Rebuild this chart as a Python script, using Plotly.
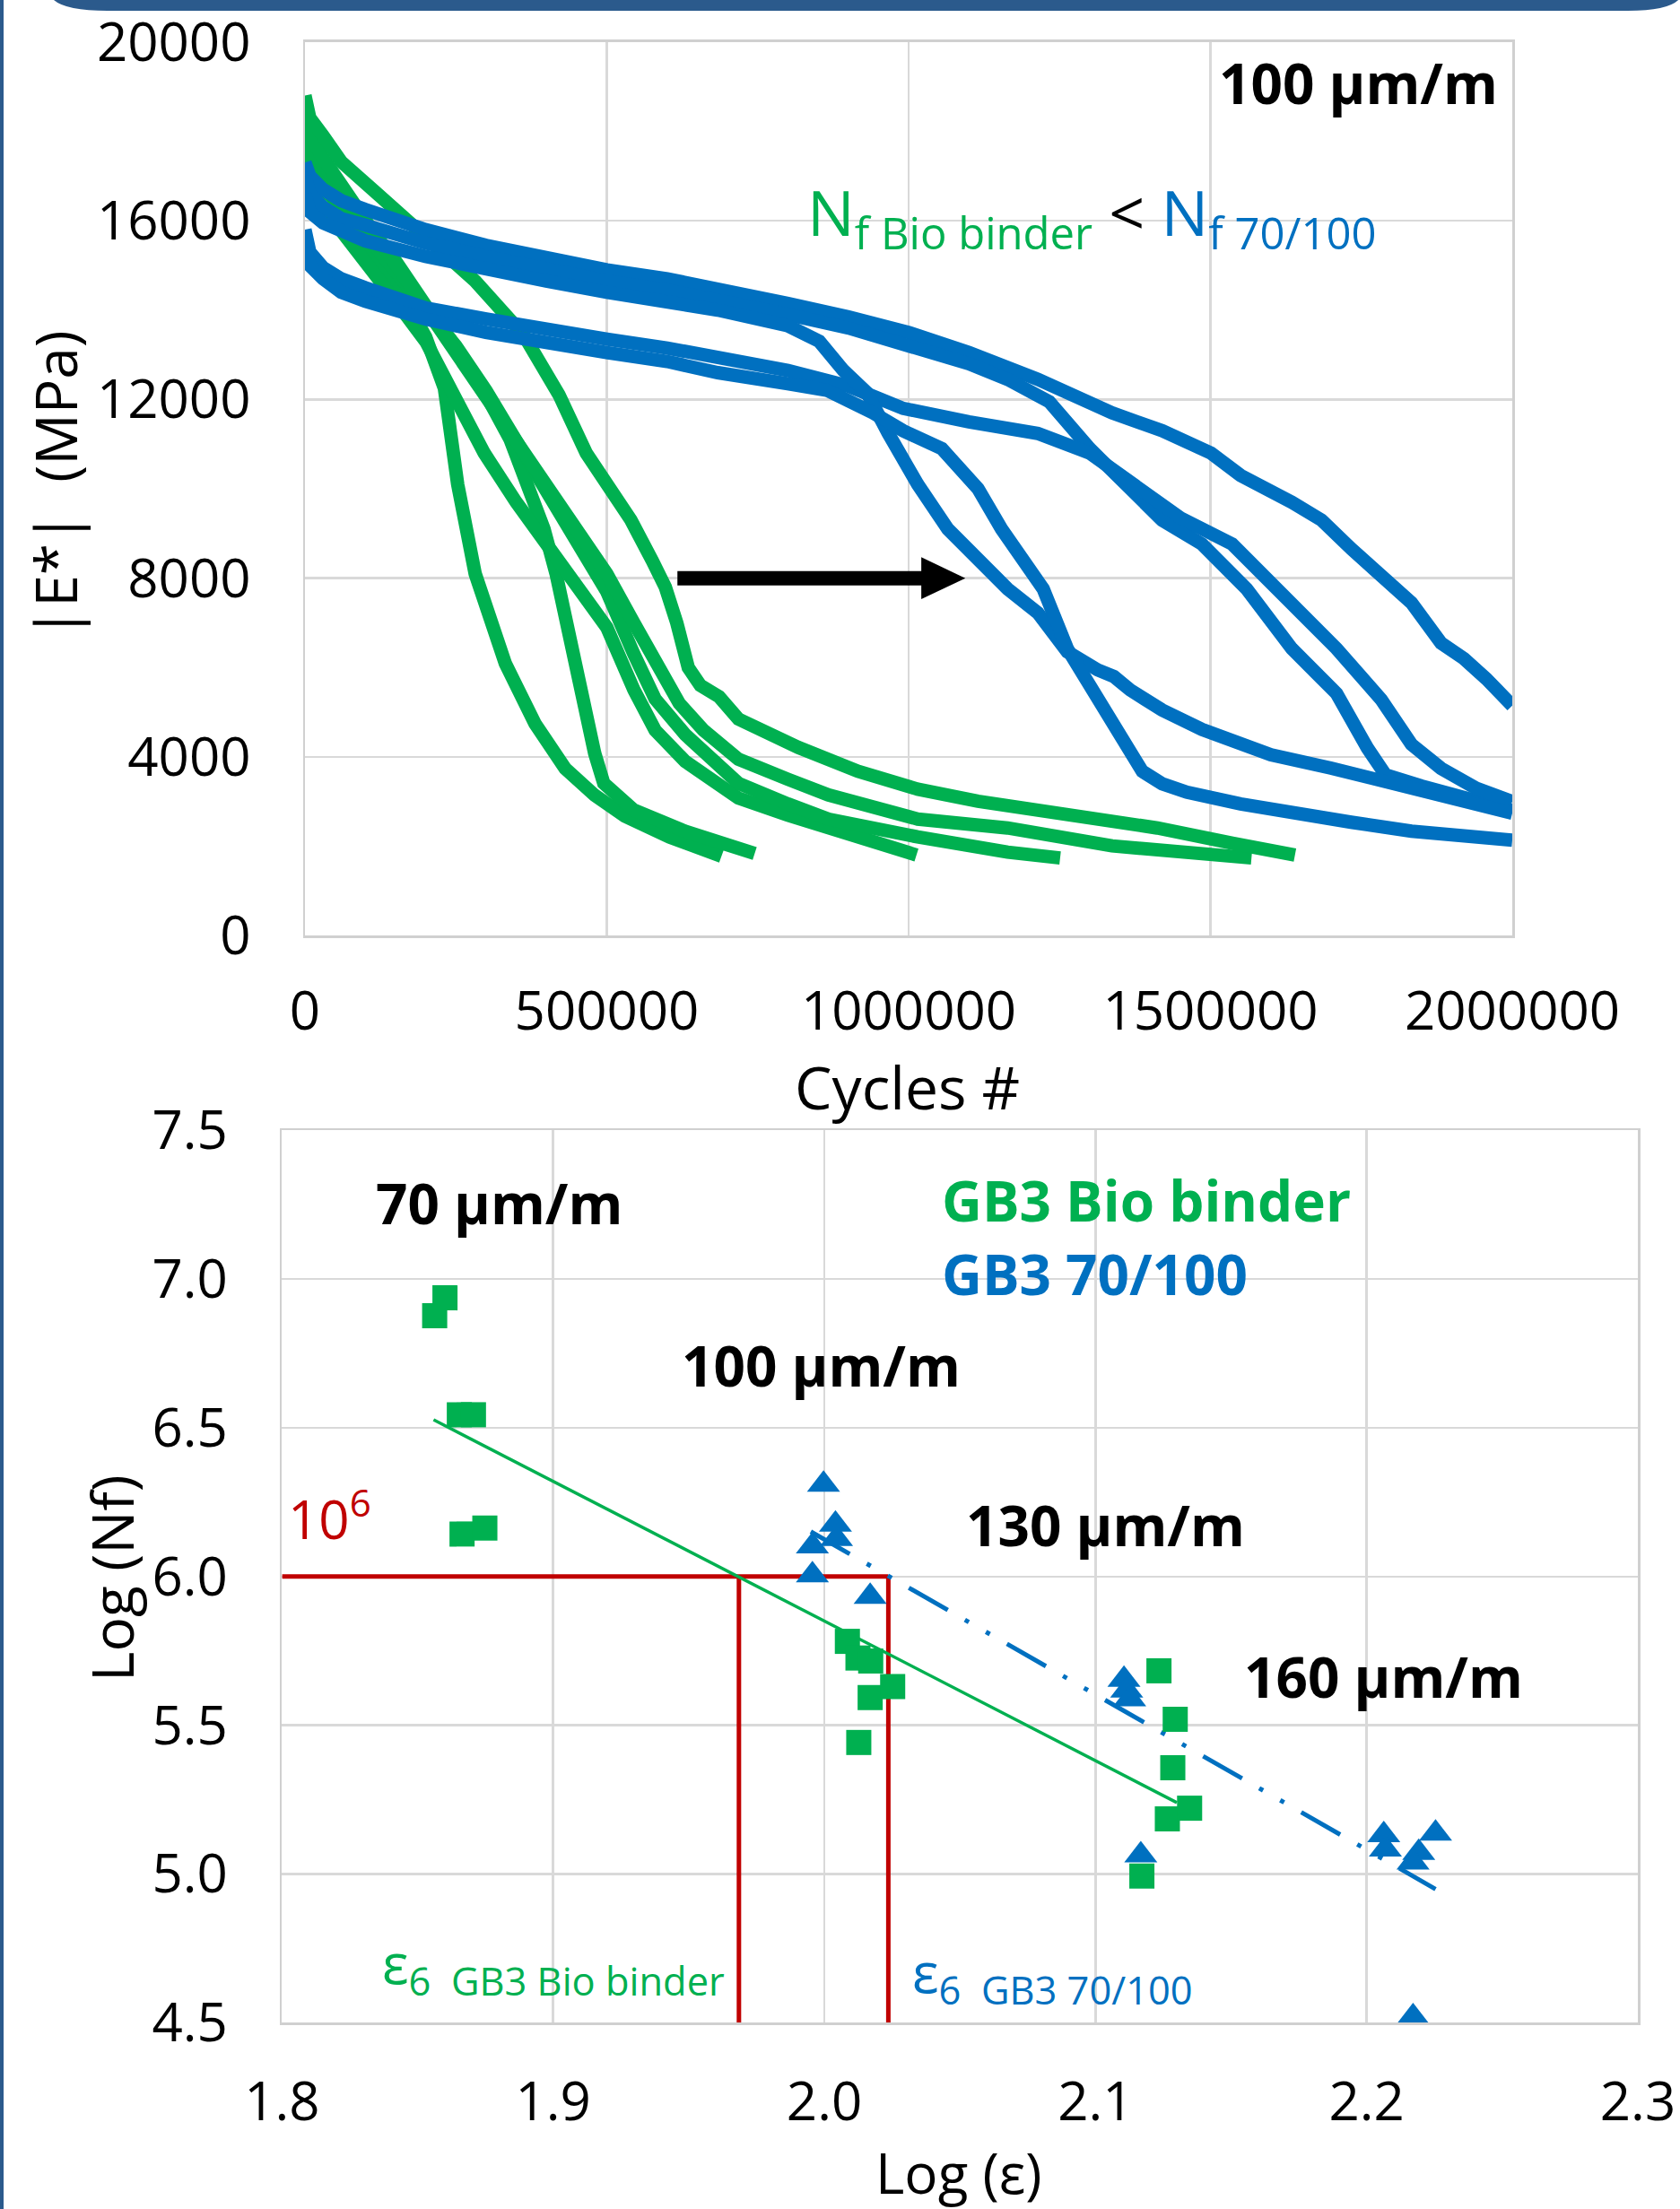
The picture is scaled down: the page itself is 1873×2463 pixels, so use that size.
import plotly.graph_objects as go

W, H = 1873, 2463
GREEN = "#00B050"
BLUE = "#0070C0"
RED = "#C00000"
BANNER = "#2B5A8C"
GRID = "#D9D9D9"
FONT = "Open Sans"

# ---------------- top chart: |E*| (MPa) vs cycles ----------------
bio_A_x = [0, 8000, 30000, 60000, 100000, 150000, 200000, 231000, 253000, 282000, 307000, 332000, 381000, 431000, 480000, 530000, 604000, 690000]
bio_A_y = [17800, 17300, 16800, 16200, 15500, 14600, 13400, 12250, 10100, 8100, 7090, 6090, 4750, 3745, 3143, 2675, 2207, 1780]

bio_B_x = [0, 8000, 30000, 60000, 100000, 150000, 200000, 250000, 300000, 340000, 367000, 396000, 416000, 431000, 446000, 461000, 480000, 495000, 545000, 629000, 684000, 745000]
bio_B_y = [18300, 17700, 17200, 16700, 16000, 15100, 14100, 13100, 12100, 11100, 10100, 9100, 8100, 7090, 6090, 5080, 4080, 3410, 2810, 2340, 2070, 1840]

bio_C_x = [0, 8000, 30000, 60000, 100000, 150000, 200000, 250000, 297000, 350000, 400000, 450000, 500000, 545000, 580000, 630000, 718000, 800000, 867000, 940000, 1013000]
bio_C_y = [17200, 16700, 16300, 15800, 15100, 14200, 13300, 12000, 10800, 9700, 8800, 7900, 6900, 5500, 4600, 3900, 3080, 2700, 2410, 2100, 1806]

bio_D_x = [0, 8000, 30000, 60000, 100000, 150000, 200000, 250000, 300000, 350000, 400000, 450000, 500000, 545000, 580000, 630000, 718000, 800000, 867000, 1015000, 1100000, 1164000, 1251000]
bio_D_y = [18000, 17400, 16900, 16300, 15700, 14900, 14100, 13200, 12200, 11100, 10000, 8900, 7700, 6300, 5300, 4500, 3410, 2950, 2610, 2210, 2000, 1870, 1740]

bio_E_x = [0, 8000, 30000, 60000, 100000, 150000, 200000, 250000, 300000, 350000, 400000, 450000, 500000, 545000, 590000, 620000, 660000, 718000, 800000, 867000, 1015000, 1164000, 1337000, 1450000, 1568000]
bio_E_y = [18500, 17900, 17400, 16800, 16000, 15100, 14100, 13100, 12100, 11000, 10100, 9100, 8100, 7000, 6000, 5200, 4600, 3950, 3500, 3150, 2610, 2410, 2010, 1850, 1740]

bio_F_x = [0, 8000, 30000, 60000, 120000, 178000, 230000, 282000, 362000, 421000, 466000, 500000, 540000, 575000, 597000, 616000, 635000, 655000, 686000, 718000, 817000, 916000, 1015000, 1115000, 1214000, 1313000, 1412000, 1536000, 1640000]
bio_F_y = [18800, 18300, 17900, 17320, 16600, 15900, 15250, 14650, 13450, 12100, 10800, 10100, 9300, 8400, 7800, 7000, 6000, 5600, 5350, 4850, 4215, 3680, 3280, 3010, 2810, 2610, 2410, 2070, 1806]

ref_1_x = [0, 8000, 30000, 60000, 100000, 200000, 300000, 400000, 500000, 600000, 684000, 800000, 900000, 1000000, 1100000, 1214000, 1337000, 1420000, 1501000, 1550000, 1635000, 1684000, 1734000, 1783000, 1833000, 1882000, 1920000, 1957000, 2000000]
ref_1_y = [17300, 17000, 16700, 16450, 16250, 15800, 15450, 15150, 14900, 14700, 14500, 14150, 13850, 13500, 13050, 12450, 11700, 11300, 10800, 10300, 9700, 9300, 8650, 8100, 7450, 6550, 6200, 5750, 5150]

ref_2_x = [0, 8000, 30000, 60000, 100000, 200000, 300000, 400000, 500000, 600000, 684000, 800000, 900000, 1000000, 1100000, 1164000, 1233000, 1300000, 1367000, 1420000, 1486000, 1560000, 1635000, 1709000, 1760000, 1790000, 1850000, 1932000, 2000000]
ref_2_y = [17000, 16600, 16300, 16050, 15900, 15500, 15200, 14900, 14650, 14450, 14250, 13900, 13600, 13200, 12800, 12450, 11950, 10900, 9950, 9300, 8763, 7760, 6420, 5420, 4200, 3600, 3350, 3077, 2800]

ref_3_x = [0, 8000, 30000, 60000, 100000, 200000, 300000, 400000, 500000, 600000, 684000, 800000, 900000, 991000, 1100000, 1214000, 1300000, 1367000, 1450000, 1536000, 1610000, 1709000, 1783000, 1833000, 1882000, 1940000, 2000000]
ref_3_y = [15800, 15300, 14950, 14700, 14500, 14050, 13800, 13550, 13350, 13150, 12950, 12650, 12300, 11800, 11500, 11240, 10800, 10150, 9350, 8763, 7760, 6422, 5284, 4281, 3746, 3300, 3000]

ref_4_x = [0, 8000, 30000, 60000, 100000, 200000, 300000, 400000, 500000, 600000, 684000, 800000, 852000, 892000, 931000, 966000, 1015000, 1065000, 1115000, 1164000, 1214000, 1263000, 1313000, 1340000, 1367000, 1420000, 1486000, 1600000, 1700000, 1783000, 1900000, 2000000]
ref_4_y = [16600, 16200, 15950, 15750, 15550, 15200, 14900, 14650, 14400, 14200, 14000, 13650, 13300, 12650, 12150, 11250, 10100, 9100, 8430, 7760, 7225, 6354, 5950, 5800, 5500, 5050, 4616, 4050, 3750, 3479, 3050, 2742]

ref_5_x = [0, 8000, 30000, 60000, 100000, 200000, 300000, 400000, 500000, 600000, 684000, 800000, 866000, 941000, 991000, 1055000, 1115000, 1154000, 1189000, 1223000, 1263000, 1293000, 1313000, 1337000, 1362000, 1387000, 1420000, 1461000, 1550000, 1635000, 1733000, 1833000, 2000000]
ref_5_y = [15400, 15000, 14700, 14400, 14200, 13800, 13500, 13250, 13050, 12850, 12600, 12350, 12200, 11700, 11300, 10900, 10000, 9100, 8430, 7760, 6422, 5752, 5284, 4817, 4200, 3680, 3400, 3211, 2950, 2742, 2540, 2340, 2140]

bio_curves = [(bio_A_x, bio_A_y), (bio_B_x, bio_B_y), (bio_C_x, bio_C_y),
              (bio_D_x, bio_D_y), (bio_E_x, bio_E_y), (bio_F_x, bio_F_y)]
ref_curves = [(ref_1_x, ref_1_y), (ref_2_x, ref_2_y), (ref_3_x, ref_3_y),
              (ref_4_x, ref_4_y), (ref_5_x, ref_5_y)]

top_xticks = [0, 500000, 1000000, 1500000, 2000000]
top_xtick_text = ["0", "500000", "1000000", "1500000", "2000000"]
top_yticks = [0, 4000, 8000, 12000, 16000, 20000]
top_ytick_text = ["0", "4000", "8000", "12000", "16000", "20000"]

arrow_y = 8000
arrow_x_start = 617000
arrow_x_head_base = 1026000
arrow_x_tip = 1094000
arrow_half_h = 470

# ---------------- bottom chart: Log(Nf) vs Log(eps) ----------------
bio_log_eps = [1.8563, 1.8601, 1.8654, 1.8706, 1.8664, 1.8748,
               2.0085, 2.0124, 2.0171, 2.0169, 2.0127, 2.0252,
               2.1234, 2.1294, 2.1285, 2.1265, 2.1347, 2.1171]
bio_log_nf = [6.877, 6.937, 6.544, 6.544, 6.143, 6.163,
              5.782, 5.726, 5.716, 5.593, 5.442, 5.630,
              5.683, 5.520, 5.357, 5.185, 5.221, 4.993]

ref_log_eps = [1.9997, 2.0041, 2.0045, 1.9956, 1.9956, 2.0169,
               2.1105, 2.1115, 2.1126, 2.1167,
               2.2063, 2.2069, 2.2192, 2.2171, 2.2254, 2.2171]
ref_log_nf = [6.309, 6.175, 6.127, 6.102, 6.005, 5.932,
              5.653, 5.617, 5.588, 5.063,
              5.131, 5.083, 5.071, 5.039, 5.136, 4.519]

bio_trend_x = [1.8559, 2.1300]
bio_trend_y = [6.527, 5.240]
ref_trend_x = [1.9950, 2.2254]
ref_trend_y = [6.151, 4.949]

log_nf_target = 6.0
eps6_bio = 1.9685
eps6_ref = 2.0236

bot_xticks = [1.8, 1.9, 2.0, 2.1, 2.2, 2.3]
bot_yticks = [4.5, 5.0, 5.5, 6.0, 6.5, 7.0, 7.5]

# ---------------- figure ----------------
fig = go.Figure()

for cx, cy in bio_curves:
    fig.add_trace(go.Scatter(x=cx, y=cy, mode="lines", xaxis="x", yaxis="y",
                             line=dict(color=GREEN, width=15), showlegend=False, hoverinfo="skip"))
for cx, cy in ref_curves:
    fig.add_trace(go.Scatter(x=cx, y=cy, mode="lines", xaxis="x", yaxis="y",
                             line=dict(color=BLUE, width=15), showlegend=False, hoverinfo="skip"))

# red 10^6 construction lines
fig.add_trace(go.Scatter(x=[bot_xticks[0], eps6_ref], y=[log_nf_target, log_nf_target], mode="lines",
                         xaxis="x2", yaxis="y2", line=dict(color=RED, width=5), showlegend=False, hoverinfo="skip"))
fig.add_trace(go.Scatter(x=[eps6_bio, eps6_bio], y=[bot_yticks[0], log_nf_target], mode="lines",
                         xaxis="x2", yaxis="y2", line=dict(color=RED, width=5), showlegend=False, hoverinfo="skip"))
fig.add_trace(go.Scatter(x=[eps6_ref, eps6_ref], y=[bot_yticks[0], log_nf_target], mode="lines",
                         xaxis="x2", yaxis="y2", line=dict(color=RED, width=5), showlegend=False, hoverinfo="skip"))

# trend lines
fig.add_trace(go.Scatter(x=bio_trend_x, y=bio_trend_y, mode="lines", xaxis="x2", yaxis="y2",
                         line=dict(color=GREEN, width=3.5), showlegend=False, hoverinfo="skip"))
fig.add_trace(go.Scatter(x=ref_trend_x, y=ref_trend_y, mode="lines", xaxis="x2", yaxis="y2",
                         line=dict(color=BLUE, width=5, dash="50px,22px,5px,22px,5px,22px"),
                         showlegend=False, hoverinfo="skip"))

# markers
fig.add_trace(go.Scatter(x=bio_log_eps, y=bio_log_nf, mode="markers", xaxis="x2", yaxis="y2",
                         marker=dict(symbol="square", size=28, color=GREEN, line=dict(width=0)),
                         name="GB3 Bio binder", showlegend=False))
fig.add_trace(go.Scatter(x=ref_log_eps, y=ref_log_nf, mode="markers", xaxis="x2", yaxis="y2",
                         marker=dict(symbol="triangle-up", size=32, color=BLUE, line=dict(width=0)),
                         name="GB3 70/100", showlegend=False))

def px_x(p):
    return p / W

def px_y(p):
    return 1 - p / H

tick_font = dict(family=FONT, size=60, color="black")
axis_style = dict(showgrid=True, gridcolor=GRID, gridwidth=2.5, showline=True, linecolor="#D0D0D0",
                  linewidth=2.5, mirror=True, zeroline=False, ticks="", tickfont=tick_font,
                  fixedrange=True, automargin=False)

fig.update_layout(
    width=W, height=H, autosize=False,
    margin=dict(l=0, r=0, t=0, b=0, pad=0, autoexpand=False),
    paper_bgcolor="white", plot_bgcolor="white",
    font=dict(family=FONT, color="black"),
    xaxis=dict(domain=[px_x(340), px_x(1686)], range=[0, 2000000], tickvals=top_xticks,
               ticktext=top_xtick_text, anchor="y", ticklabelstandoff=30, **axis_style),
    yaxis=dict(domain=[px_y(1043.3), px_y(46.8)], range=[0, 20000], tickvals=top_yticks,
               ticktext=top_ytick_text, anchor="x", ticklabelstandoff=46, **axis_style),
    xaxis2=dict(domain=[px_x(314.4), px_x(1826)], range=[1.8, 2.3], tickvals=bot_xticks,
                tickformat=".1f", anchor="y2", ticklabelstandoff=34, **axis_style),
    yaxis2=dict(domain=[px_y(2255.2), px_y(1260.4)], range=[4.5, 7.5], tickvals=bot_yticks,
                tickformat=".1f", anchor="x2", ticklabelstandoff=46, **axis_style),
)

# arrow in top chart
fig.add_shape(type="line", xref="x", yref="y", x0=arrow_x_start, y0=arrow_y, x1=arrow_x_head_base, y1=arrow_y,
              line=dict(color="black", width=16))
fig.add_shape(type="path", xref="x", yref="y",
              path=f"M {arrow_x_head_base - 5000},{arrow_y + arrow_half_h} L {arrow_x_tip},{arrow_y} "
                   f"L {arrow_x_head_base - 5000},{arrow_y - arrow_half_h} Z",
              fillcolor="black", line=dict(width=0))

# decorative banner + left border
fig.add_shape(type="path", xref="paper", yref="paper", layer="above",
              path=(f"M {px_x(58)},{px_y(-2)} Q {px_x(70)},{px_y(12)} {px_x(120)},{px_y(12)} "
                    f"L {px_x(1815)},{px_y(12)} Q {px_x(1862)},{px_y(12)} {px_x(1873)},{px_y(-2)} Z"),
              fillcolor=BANNER, line=dict(width=0))
fig.add_shape(type="rect", xref="paper", yref="paper", x0=0, x1=px_x(4), y0=0, y1=1,
              fillcolor=BANNER, line=dict(width=0))

def note(text, x, y, size, color="black", xanchor="center", yanchor="middle", angle=0):
    fig.add_annotation(text=text, x=px_x(x), y=px_y(y), xref="paper", yref="paper",
                       xanchor=xanchor, yanchor=yanchor, showarrow=False, textangle=angle,
                       borderpad=0, font=dict(family=FONT, size=size, color=color))

# axis titles
note("Cycles #", 1011, 1211, 66)
note("|E*|  (MPa)", 61, 540, 64, angle=-90)
note("Log (Nf)", 124, 1760, 64, angle=-90)
note("Log (ε)", 1069, 2422, 62)

# top chart labels
note("<b>100 µm/m</b>", 1514, 92, 62)
note(f'<span style="color:{GREEN}">N<sub>f Bio binder</sub></span> &lt; '
     f'<span style="color:{BLUE}">N<sub>f 70/100</sub></span>', 899, 240, 70, xanchor="left")

# bottom chart labels
note("<b>70 µm/m</b>", 556, 1341, 62)
note("<b>100 µm/m</b>", 915, 1522, 62)
note("<b>130 µm/m</b>", 1232, 1700, 62)
note("<b>160 µm/m</b>", 1542, 1869, 62)
note("<b>GB3 Bio binder</b>", 1049, 1338, 62, color=GREEN, xanchor="left")
note("<b>GB3 70/100</b>", 1049, 1420, 62, color=BLUE, xanchor="left")
note("10<sup>6</sup>", 320, 1690, 60, color=RED, xanchor="left")
note("ε<sub>6\u00a0\u00a0GB3 Bio binder</sub>", 425, 2192, 62, color=GREEN, xanchor="left")
note("ε<sub>6\u00a0\u00a0GB3 70/100</sub>", 1016, 2202, 62, color=BLUE, xanchor="left")

fig.write_html("out.html",
               config={"displayModeBar": False, "staticPlot": True},
               post_script="document.body.style.margin='0';document.body.style.padding='0';"
                           "document.documentElement.style.overflow='hidden';")
